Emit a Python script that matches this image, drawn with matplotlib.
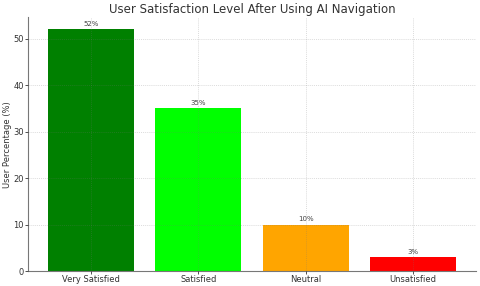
import matplotlib
matplotlib.use("Agg")
import matplotlib.pyplot as plt

categories = ['Very Satisfied', 'Satisfied', 'Neutral', 'Unsatisfied']
percentages = [52, 35, 10, 3]
bar_colors = ['green', 'lime', 'orange', 'red']

fig, ax = plt.subplots(figsize=(4.8, 2.86), dpi=100)
fig.subplots_adjust(left=0.058, right=0.992, top=0.94, bottom=0.052)

bars = ax.bar(categories, percentages, color=bar_colors, width=0.8)
for b, v in zip(bars, percentages):
    ax.text(b.get_x() + b.get_width() / 2, b.get_height() + 0.5, f'{v}%',
            ha='center', va='bottom', fontsize=5, color='#444444')

ax.set_title('User Satisfaction Level After Using AI Navigation', fontsize=8.5, color='#333333', pad=3)
ax.set_ylabel('User Percentage (%)', fontsize=6, color='#333333', labelpad=1)
ax.tick_params(labelsize=6, colors='#333333', length=2, width=0.6, pad=1)
ax.grid(True, linestyle=(0, (1.5, 1.5)), linewidth=0.5, color='#777777', alpha=0.35)
ax.set_axisbelow(False)
for s in ['top', 'right']:
    ax.spines[s].set_visible(False)
for s in ['left', 'bottom']:
    ax.spines[s].set_color('#777777')
    ax.spines[s].set_linewidth(0.8)

plt.savefig('out.png', dpi=100)
